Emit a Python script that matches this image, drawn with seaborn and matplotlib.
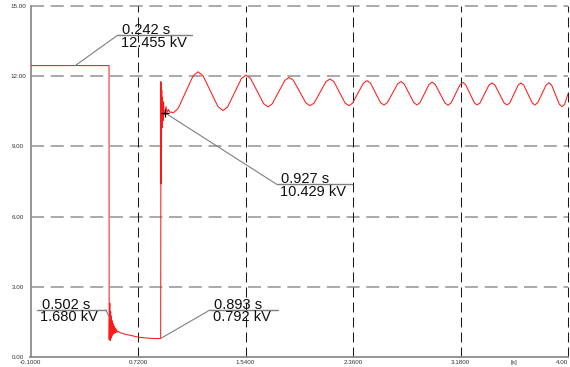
import matplotlib
matplotlib.use("Agg")
import matplotlib.pyplot as plt
import seaborn as sns
import pandas as pd

# ---------------- data ----------------
time_s = [
    -0.100, 0.499,
    0.500, 0.502, 0.505, 0.508, 0.511, 0.514, 0.517, 0.520, 0.523, 0.527, 0.531,
    0.535, 0.539, 0.543, 0.547, 0.552, 0.557, 0.562, 0.570, 0.583, 0.600, 0.630,
    0.659, 0.690, 0.728, 0.770, 0.810, 0.850, 0.893,
    0.895, 0.898, 0.901, 0.904, 0.907, 0.911, 0.915, 0.920, 0.927, 0.934,
    0.942, 0.952, 0.964, 0.976, 0.987,
    1.025, 1.0825, 1.140, 1.178, 1.216, 1.273, 1.330, 1.368,
    1.403, 1.456, 1.509, 1.544, 1.578, 1.628, 1.678, 1.712,
    1.744, 1.792, 1.840, 1.872, 1.904, 1.952, 2.000, 2.032,
    2.063, 2.1085, 2.154, 2.185, 2.214, 2.257, 2.300, 2.329,
    2.357, 2.398, 2.439, 2.467, 2.493, 2.5315, 2.570, 2.596,
    2.622, 2.661, 2.700, 2.726, 2.750, 2.787, 2.824, 2.848,
    2.871, 2.9055, 2.940, 2.963, 2.987, 3.024, 3.061, 3.085,
    3.108, 3.142, 3.176, 3.199, 3.220, 3.2525, 3.285, 3.306,
    3.329, 3.363, 3.397, 3.420, 3.443, 3.4775, 3.512, 3.535,
    3.556, 3.588, 3.620, 3.641, 3.662, 3.6945, 3.727, 3.748,
    3.769, 3.8015, 3.834, 3.855, 3.875, 3.9045, 3.934, 3.954,
    3.974, 4.000,
]
voltage_kv = [
    12.455, 12.455,
    0.75, 1.68, 2.30, 0.70, 1.95, 0.80, 1.75, 0.88, 1.55, 0.95, 1.42,
    1.00, 1.32, 1.02, 1.24, 1.05, 1.17, 1.06, 1.10, 1.04, 1.01, 0.96,
    0.93, 0.89, 0.84, 0.82, 0.80, 0.79, 0.792,
    11.77, 7.40, 11.40, 9.80, 11.10, 10.10, 10.90, 10.35, 10.429, 10.70,
    10.45, 10.58, 10.45, 10.47, 10.43,
    10.61, 11.31, 12.01, 12.19, 12.02, 11.36, 10.70, 10.53,
    10.68, 11.29, 11.90, 12.05, 11.91, 11.37, 10.83, 10.69,
    10.82, 11.32, 11.82, 11.95, 11.83, 11.35, 10.86, 10.74,
    10.85, 11.31, 11.77, 11.88, 11.77, 11.31, 10.85, 10.74,
    10.85, 11.28, 11.70, 11.81, 11.71, 11.29, 10.87, 10.77,
    10.87, 11.27, 11.67, 11.77, 11.67, 11.27, 10.87, 10.77,
    10.87, 11.26, 11.65, 11.75, 11.65, 11.26, 10.86, 10.76,
    10.86, 11.25, 11.63, 11.73, 11.63, 11.25, 10.87, 10.77,
    10.86, 11.24, 11.62, 11.71, 11.62, 11.24, 10.86, 10.77,
    10.86, 11.24, 11.62, 11.71, 11.62, 11.24, 10.86, 10.77,
    10.87, 11.25, 11.63, 11.72, 11.62, 11.21, 10.80, 10.70,
    10.80, 11.25,
]

# annotated points
ann_t = [0.242, 0.927, 0.502, 0.893]
ann_v = [12.455, 10.429, 1.680, 0.792]

# axis ticks
x_major = [-0.1, 0.72, 1.54, 2.36, 3.18, 3.59]
x_major_labels = ["-0.1000", "0.7200", "1.5400", "2.3600", "3.1800", "[s]"]
x_last = 4.0
x_last_label = "4.00"
x_minor = [0.31, 1.13, 1.95, 2.77]
y_major = [0, 3, 6, 9, 12, 15]
y_major_labels = ["0.00", "3.00", "6.00", "9.00", "12.00", "15.00"]
y_minor = [1.5, 4.5, 7.5, 10.5, 13.5]

# ---------------- style ----------------
sns.set_style("white")
plt.rcParams["font.family"] = ["Liberation Sans", "DejaVu Sans"]
plt.rcParams["lines.scale_dashes"] = False

W, H = 570, 367
fig = plt.figure(figsize=(W / 100, H / 100), dpi=100)
left_px, right_px, top_px, bottom_px = 30.5, 568, 6, 357
ax = fig.add_axes([left_px / W, (H - bottom_px) / H,
                   (right_px - left_px) / W, (bottom_px - top_px) / H])
ax.set_xlim(-0.1, 4.0)
ax.set_ylim(0, 15)

# grid (drawn manually so the edge lines are not clipped)
for y in y_major[1:]:
    ax.axhline(y, color="#a3a3a3", lw=1.3, linestyle=(0, (9.4, 4.8)),
               clip_on=False, zorder=0.5)
for x in [0.72, 1.54, 2.36, 3.18, 4.0]:
    ax.axvline(x, color="#1a1a1a", lw=0.75, linestyle=(0, (7.2, 3.6)),
               clip_on=False, zorder=0.6)

df = pd.DataFrame({"t": time_s, "v": voltage_kv})
sns.lineplot(data=df, x="t", y="v", sort=False, estimator=None,
             color="#ff1a1a", lw=0.75, ax=ax, zorder=3)

# annotation layout (data coords)
ann_line_y = [13.76, 7.38, 2.01, 2.01]
ann_elbow_x = [0.567, 1.778, 0.476, 1.269]
ann_line_x0 = [0.567, 1.778, -0.048, 1.269]
ann_line_x1 = [1.132, 2.350, 0.476, 1.790]
ann_cross = [False, True, False, False]

for t, v, ly, ex, x0, x1, cr in zip(ann_t, ann_v, ann_line_y, ann_elbow_x,
                                    ann_line_x0, ann_line_x1, ann_cross):
    ax.plot([t, ex], [v, ly], color="#7f7f7f", lw=0.8, zorder=4)
    ax.plot([x0, x1], [ly, ly], color="#7f7f7f", lw=1.0, zorder=4)
    if cr:
        ax.plot([t], [v], marker="+", color="black", ms=6, mew=0.9, zorder=5)
    ax.annotate(f"{t:.3f} s", xy=(x0, ly), xytext=(4.5, 1.2),
                textcoords="offset pixels", ha="left", va="baseline",
                fontsize=10.5, color="#111111", zorder=6)
    ax.annotate(f"{v:.3f} kV", xy=(x0, ly), xytext=(3, -0.5),
                textcoords="offset pixels", ha="left", va="top",
                fontsize=10.5, color="#111111", zorder=6)

# axes / ticks
ax.set_xlabel("")
ax.set_ylabel("")
for s in ["top", "right"]:
    ax.spines[s].set_visible(False)
for s in ["left", "bottom"]:
    ax.spines[s].set_color("#8c8c8c")
    ax.spines[s].set_linewidth(1.3)
    ax.spines[s].set_zorder(2)

ax.set_xticks(x_major + [x_last])
ax.set_xticklabels(x_major_labels + [x_last_label])
ax.set_xticks(x_minor, minor=True)
ax.set_yticks(y_major)
ax.set_yticklabels(y_major_labels)
ax.set_yticks(y_minor, minor=True)
ax.tick_params(axis="both", which="both", direction="in", length=2.5,
               width=0.8, color="#707070", labelsize=4.5, labelcolor="#333333")
ax.tick_params(axis="x", which="major", pad=2.5)
ax.tick_params(axis="y", which="major", pad=9)
for lab in ax.get_yticklabels():
    lab.set_horizontalalignment("center")
ax.get_xticklabels()[-1].set_horizontalalignment("right")

fig.savefig("out.png", dpi=100)
